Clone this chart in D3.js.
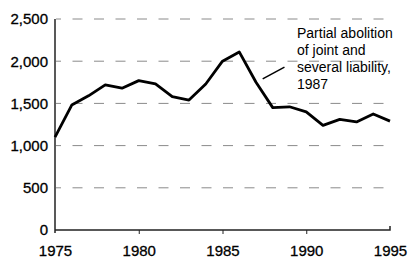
<!DOCTYPE html>
<html>
<head>
<meta charset="utf-8">
<script src="https://cdn.jsdelivr.net/npm/d3@7"></script>
<style>
	body { margin: 0; background: #fff; }
	text { font-family: "Liberation Sans", Arial, sans-serif; fill: #000; }
</style>
</head>
<body>
<svg id="container" width="411" height="261"></svg>
<script>

// data
const YEARS = [1975, 1976, 1977, 1978, 1979, 1980, 1981, 1982, 1983, 1984, 1985,
	1986, 1987, 1988, 1989, 1990, 1991, 1992, 1993, 1994, 1995];
const VALUES = [1100, 1480, 1590, 1720, 1680, 1770, 1730, 1580, 1540, 1730, 2000,
	2110, 1750, 1450, 1460, 1400, 1240, 1310, 1280, 1375, 1290];
const X_TICKS = [1975, 1980, 1985, 1990, 1995];
const Y_TICKS = [0, 500, 1000, 1500, 2000, 2500];
const NOTE = ['Partial abolition', 'of joint and', 'several liability,', '1987'];

var svg = d3.select('#container');

var x = d3.scaleLinear().domain([1975, 1995]).range([55, 390]);
var y = d3.scaleLinear().domain([0, 2500]).range([230, 19]);

// gridlines
svg.append('g')
	.selectAll('line')
	.data(Y_TICKS.filter(function(d) { return d > 0; }))
	.enter()
	.append('line')
	.attr('x1', x(1975) + 1)
	.attr('x2', x(1995))
	.attr('y1', function(d) { return y(d); })
	.attr('y2', function(d) { return y(d); })
	.style('stroke', '#8a8a8a')
	.style('stroke-width', 1)
	.style('stroke-dasharray', '10,11.5')
	.style('stroke-dashoffset', 5);

// y axis
var yAxis = svg.append('g')
	.attr('transform', 'translate(' + x(1975) + ',0)')
	.call(d3.axisLeft(y).tickValues(Y_TICKS).tickSize(0).tickPadding(7)
		.tickFormat(d3.format(',')));
yAxis.select('.domain').attr('d', 'M0,' + y(2500) + 'V' + (y(0) + 3))
	.style('stroke', '#222').style('stroke-width', 1.5);
yAxis.selectAll('text')
	.style('font-size', '15px')
	.style('stroke', '#000')
	.style('stroke-width', 0.3);

// x axis
var xAxis = svg.append('g')
	.attr('transform', 'translate(0,' + y(0) + ')')
	.call(d3.axisBottom(x).tickValues(X_TICKS).tickSize(4).tickPadding(11)
		.tickFormat(d3.format('d')));
xAxis.select('.domain').attr('d', 'M' + x(1975) + ',0H' + x(1995) + 'V-4')
	.style('stroke', '#222').style('stroke-width', 1.5);
xAxis.selectAll('.tick line')
	.style('stroke', '#222')
	.attr('y2', function(d) { return (d == 1975 || d == 1995) ? 0 : 4; });
xAxis.selectAll('text')
	.style('font-size', '15px')
	.style('stroke', '#000')
	.style('stroke-width', 0.3);

// series
var line = d3.line()
	.x(function(d, i) { return x(YEARS[i]); })
	.y(function(d) { return y(d); });

svg.append('path')
	.datum(VALUES)
	.attr('d', line)
	.style('fill', 'none')
	.style('stroke', '#000')
	.style('stroke-width', 2.8)
	.style('stroke-linejoin', 'round');

// annotation
svg.append('line')
	.attr('x1', x(1987.4)).attr('y1', y(1790))
	.attr('x2', x(1988.7)).attr('y2', y(1930))
	.style('stroke', '#000')
	.style('stroke-width', 1.5);

svg.append('text')
	.attr('x', 297)
	.attr('y', 38)
	.style('font-size', '14px')
	.selectAll('tspan')
	.data(NOTE)
	.enter()
	.append('tspan')
	.attr('x', 297)
	.attr('dy', function(d, i) { return i == 0 ? 0 : 17; })
	.text(function(d) { return d; });

</script>
</body>
</html>
